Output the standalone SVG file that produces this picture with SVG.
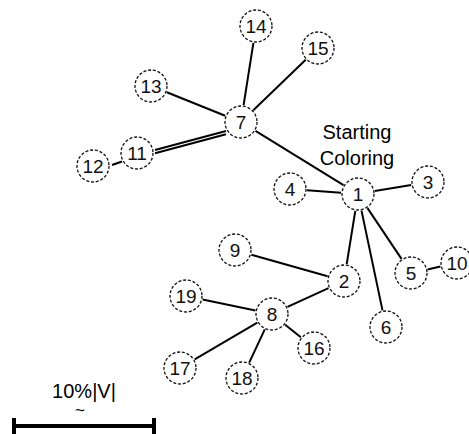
<svg xmlns="http://www.w3.org/2000/svg" width="469" height="434" viewBox="0 0 469 434">
<style>
.n circle{fill:#fff;stroke:#111;stroke-width:1.3;stroke-dasharray:3 1.8}
.n text{font-family:"Liberation Sans",Arial,sans-serif;font-size:19px;fill:#111;text-anchor:middle}
.e line{stroke:#000;stroke-width:2}
.lbl{font-family:"Liberation Sans",Arial,sans-serif;font-size:20px;fill:#000;text-anchor:middle}
</style>
<rect width="469" height="434" fill="#fff"/>
<g id="connectors" class="e">
<line x1="243.6" y1="105.2" x2="253.4" y2="42.8"/>
<line x1="253.3" y1="110.2" x2="305.7" y2="59.8"/>
<line x1="225.2" y1="115.7" x2="166.8" y2="92.3"/>
<line x1="155" y1="150" x2="226" y2="131"/>
<line x1="155" y1="153.2" x2="226" y2="134.2"/>
<line x1="255.5" y1="130.9" x2="343.5" y2="185.1"/>
<line x1="112" y1="165" x2="122" y2="161.5"/>
<line x1="341" y1="192.8" x2="307" y2="190.2"/>
<line x1="374.8" y1="191.1" x2="411.2" y2="184.9"/>
<line x1="355.3" y1="210.8" x2="346.7" y2="264.2"/>
<line x1="361.5" y1="210.6" x2="382.5" y2="310.4"/>
<line x1="367.5" y1="208.1" x2="401.5" y2="258.9"/>
<line x1="427.6" y1="269.4" x2="440.4" y2="266.6"/>
<line x1="327.6" y1="276.3" x2="251.4" y2="254.7"/>
<line x1="328.5" y1="288.1" x2="287.5" y2="306.9"/>
<line x1="255.4" y1="310.5" x2="202.6" y2="299.5"/>
<line x1="257.3" y1="322.6" x2="194.7" y2="359.4"/>
<line x1="264.8" y1="329.4" x2="249.2" y2="362.6"/>
<line x1="285.2" y1="324.7" x2="300.8" y2="337.3"/>
</g>
<g id="node1" class="n"><circle cx="358" cy="194" r="16"/><text x="358" y="200.8">1</text></g>
<g id="node2" class="n"><circle cx="344" cy="281" r="16"/><text x="344" y="287.8">2</text></g>
<g id="node3" class="n"><circle cx="428" cy="182" r="16"/><text x="428" y="188.8">3</text></g>
<g id="node4" class="n"><circle cx="290" cy="189" r="16"/><text x="290" y="195.8">4</text></g>
<g id="node5" class="n"><circle cx="411" cy="273" r="16"/><text x="411" y="279.8">5</text></g>
<g id="node6" class="n"><circle cx="386" cy="327" r="16"/><text x="386" y="333.8">6</text></g>
<g id="node7" class="n"><circle cx="241" cy="122" r="16"/><text x="241" y="128.8">7</text></g>
<g id="node8" class="n"><circle cx="272" cy="314" r="16"/><text x="272" y="320.8">8</text></g>
<g id="node9" class="n"><circle cx="235" cy="250" r="16"/><text x="235" y="256.8">9</text></g>
<g id="node10" class="n"><circle cx="457" cy="263" r="16"/><text x="457" y="269.8">10</text></g>
<g id="node11" class="n"><circle cx="137" cy="153" r="16"/><text x="137" y="159.8">11</text></g>
<g id="node12" class="n"><circle cx="93" cy="166" r="16"/><text x="93" y="172.8">12</text></g>
<g id="node13" class="n"><circle cx="151" cy="86" r="16"/><text x="151" y="92.8">13</text></g>
<g id="node14" class="n"><circle cx="256" cy="26" r="16"/><text x="256" y="32.8">14</text></g>
<g id="node15" class="n"><circle cx="318" cy="48" r="16"/><text x="318" y="54.8">15</text></g>
<g id="node16" class="n"><circle cx="314" cy="348" r="16"/><text x="314" y="354.8">16</text></g>
<g id="node17" class="n"><circle cx="180" cy="368" r="16"/><text x="180" y="374.8">17</text></g>
<g id="node18" class="n"><circle cx="242" cy="378" r="16"/><text x="242" y="384.8">18</text></g>
<g id="node19" class="n"><circle cx="186" cy="296" r="16"/><text x="186" y="302.8">19</text></g>
<text class="lbl" x="357" y="138.5">Starting</text>
<text class="lbl" x="357" y="165">Coloring</text>
<g id="scale">
<text class="lbl" x="84" y="398">10%|V|</text>
<text x="80" y="416" style="font-family:'Liberation Sans',Arial,sans-serif;font-size:17px;text-anchor:middle">~</text>
<line x1="14" y1="426" x2="154" y2="426" stroke="#000" stroke-width="4"/>
<line x1="14" y1="418" x2="14" y2="434" stroke="#000" stroke-width="4"/>
<line x1="154" y1="418" x2="154" y2="434" stroke="#000" stroke-width="4"/>
</g>
</svg>
